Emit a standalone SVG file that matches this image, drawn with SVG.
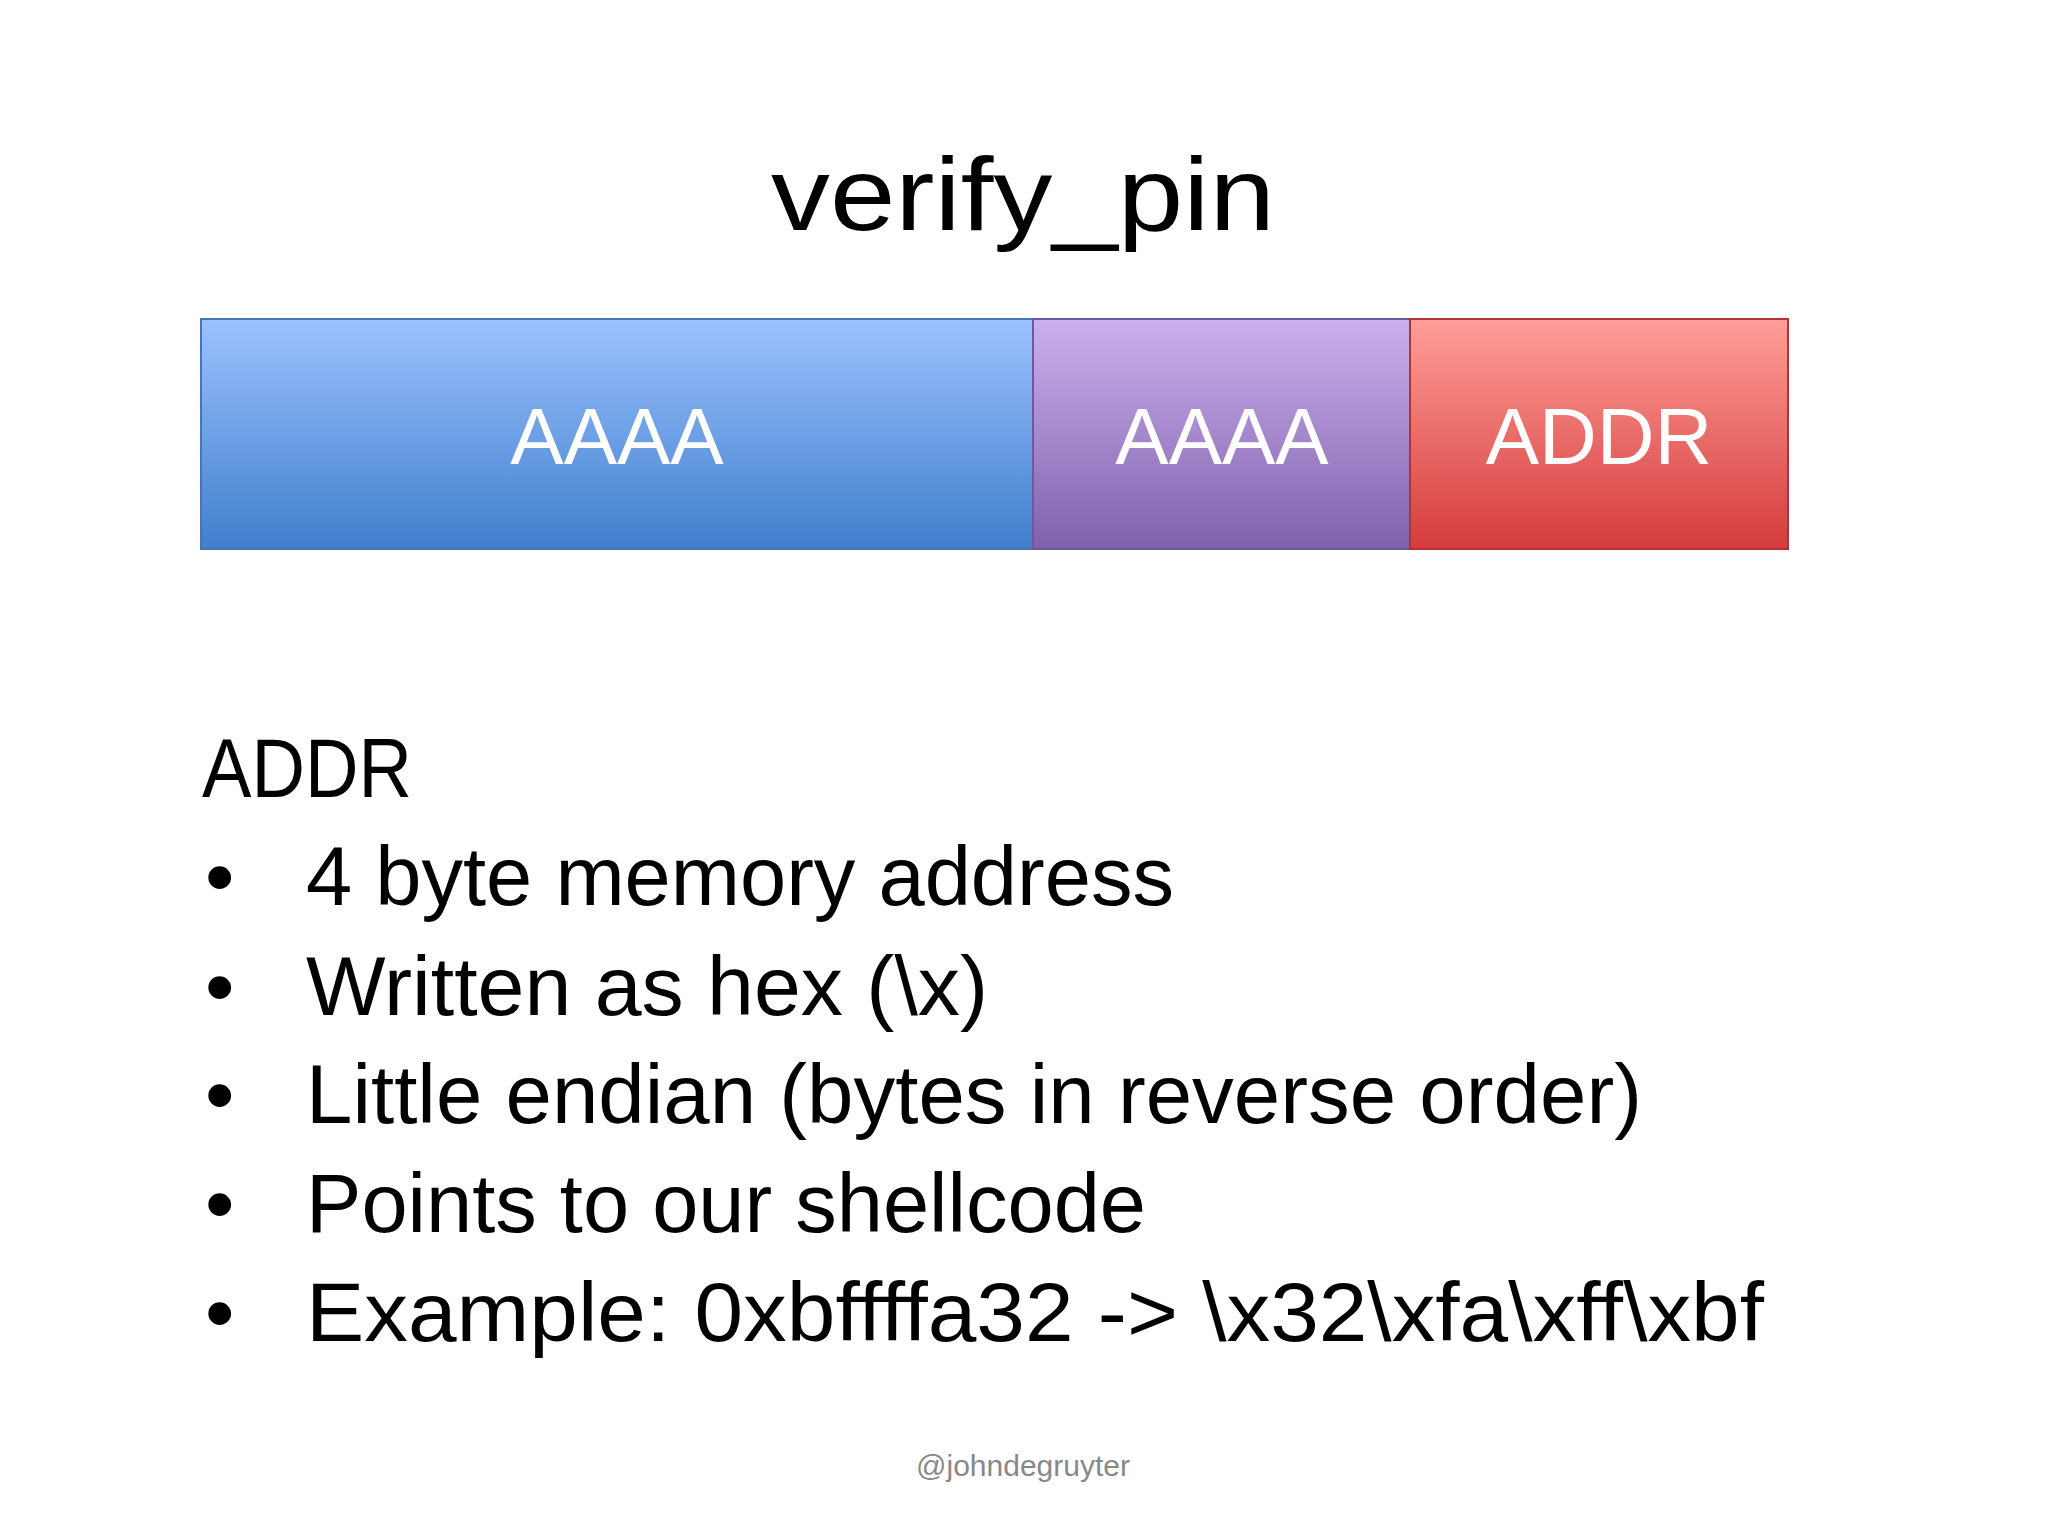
<svg xmlns="http://www.w3.org/2000/svg" width="2048" height="1536" viewBox="0 0 2048 1536">
<style>
text{font-family:"Liberation Sans",Arial,sans-serif;}
.box{font-size:80px;fill:#fff;text-anchor:middle}
.b{font-size:84px;fill:#000}
</style>
<defs>
<linearGradient id="gb" x1="0" y1="0" x2="0" y2="1"><stop offset="0" stop-color="#9cc2ff"/><stop offset="1" stop-color="#3f7fcc"/></linearGradient>
<linearGradient id="gp" x1="0" y1="0" x2="0" y2="1"><stop offset="0" stop-color="#cbb0ee"/><stop offset="1" stop-color="#8060ac"/></linearGradient>
<linearGradient id="gr" x1="0" y1="0" x2="0" y2="1"><stop offset="0" stop-color="#ff9e98"/><stop offset="1" stop-color="#d43c3c"/></linearGradient>
</defs>
<rect width="2048" height="1536" fill="#fff"/>
<text x="1023" y="230" font-size="104" text-anchor="middle" textLength="504" lengthAdjust="spacingAndGlyphs">verify_pin</text>
<g id="blue"><rect x="201" y="319" width="832" height="230" fill="url(#gb)" stroke="#4a74b8" stroke-width="2"/><text class="box" x="617" y="464">AAAA</text></g>
<g id="purple"><rect x="1033" y="319" width="377" height="230" fill="url(#gp)" stroke="#6e58a0" stroke-width="2"/><text class="box" x="1222" y="464">AAAA</text></g>
<g id="red"><rect x="1410" y="319" width="378" height="230" fill="url(#gr)" stroke="#b03434" stroke-width="2"/><text class="box" x="1599" y="464">ADDR</text></g>
<g id="connectors"/>
<text class="b" x="202" y="797" textLength="210" lengthAdjust="spacingAndGlyphs">ADDR</text>
<g class="b">
<text class="b" x="205" y="905">•</text><text class="b" x="306" y="905" textLength="868" lengthAdjust="spacingAndGlyphs">4 byte memory address</text>
<text class="b" x="205" y="1015">•</text><text class="b" x="306" y="1015" textLength="682" lengthAdjust="spacingAndGlyphs">Written as hex (\x)</text>
<text class="b" x="205" y="1123">•</text><text class="b" x="306" y="1123" textLength="1336" lengthAdjust="spacingAndGlyphs">Little endian (bytes in reverse order)</text>
<text class="b" x="205" y="1232">•</text><text class="b" x="306" y="1232" textLength="840" lengthAdjust="spacingAndGlyphs">Points to our shellcode</text>
<text class="b" x="205" y="1341">•</text><text class="b" x="306" y="1341" textLength="1458" lengthAdjust="spacingAndGlyphs">Example:  0xbffffa32 -&gt; \x32\xfa\xff\xbf</text>
</g>
<text x="1023" y="1476" font-size="30" fill="#888" text-anchor="middle">@johndegruyter</text>
</svg>
